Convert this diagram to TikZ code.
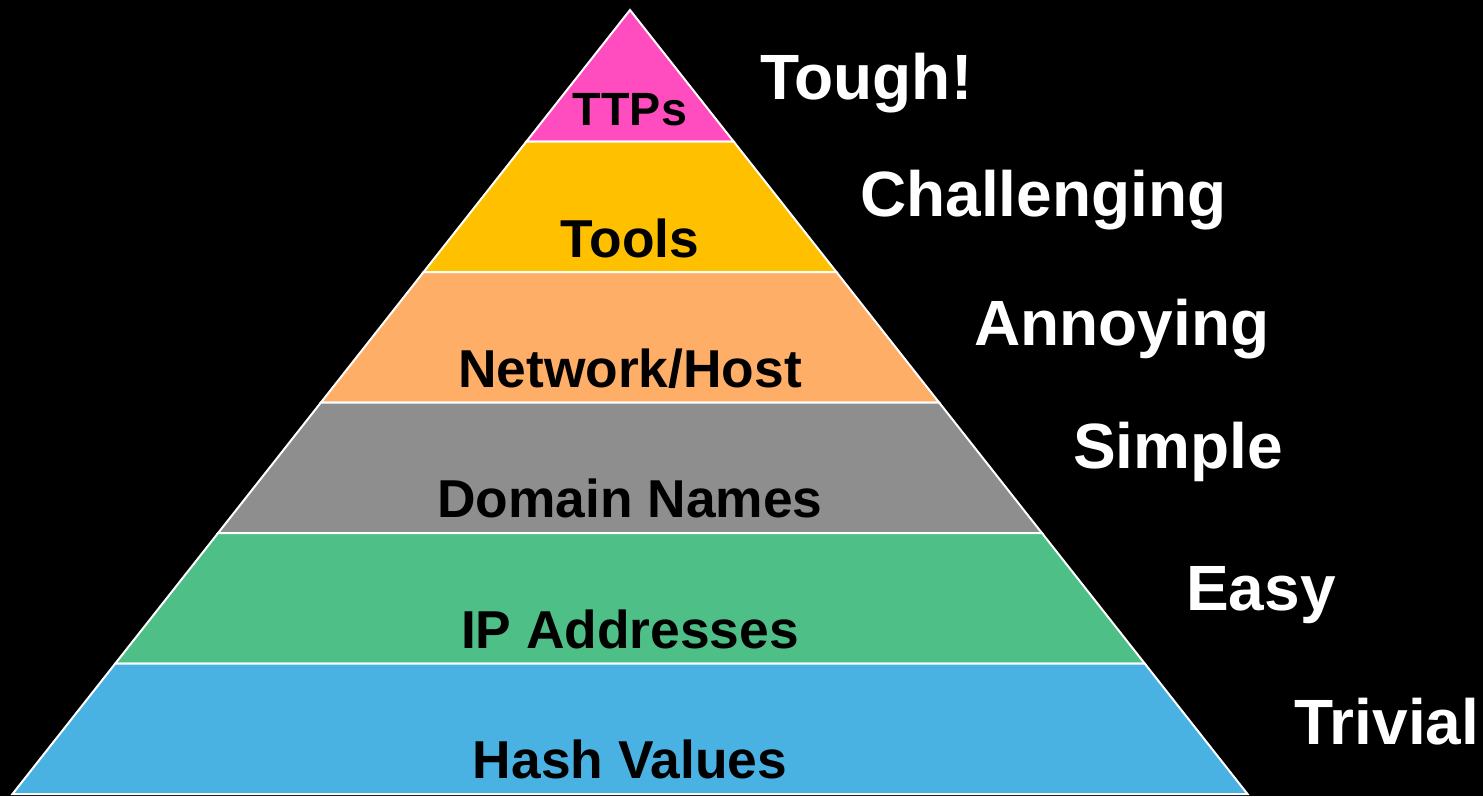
\documentclass[tikz,border=0pt]{standalone}
\usepackage{fontspec}
\setmainfont{Liberation Sans}
\definecolor{cpink}{HTML}{FF4DC0}
\definecolor{cyellow}{HTML}{FFC000}
\definecolor{corange}{HTML}{FFAE68}
\definecolor{cgrey}{HTML}{8E8E8E}
\definecolor{cgreen}{HTML}{4EBF87}
\definecolor{cblue}{HTML}{4AB2E3}
\tikzset{
  layer/.style={draw=white, line width=1.5pt, line join=miter},
  lbl/.style={anchor=base, inner sep=0pt, text=black, font=\fontsize{40}{40}\selectfont\bfseries},
  diff/.style={anchor=base west, inner sep=0pt, text=white, font=\fontsize{48}{48}\selectfont\bfseries}
}
\begin{document}
\begin{tikzpicture}[x=0.75pt, y=-0.75pt]
\fill[black] (0,0) rectangle (1483,796);
\useasboundingbox (0,0) rectangle (1483,796);
% boundary coordinates
\coordinate (apex) at (630,10);
\coordinate (l1) at (526.4,141.5); \coordinate (r1) at (733.6,141.5);
\coordinate (l2) at (423.6,272);   \coordinate (r2) at (836.4,272);
\coordinate (l3) at (320.9,402.5); \coordinate (r3) at (939.1,402.5);
\coordinate (l4) at (218.1,533);   \coordinate (r4) at (1041.9,533);
\coordinate (l5) at (115.3,663.5); \coordinate (r5) at (1144.7,663.5);
\coordinate (l6) at (12.5,794);    \coordinate (r6) at (1247.5,794);
% layers
\filldraw[layer, fill=cpink]   (apex) -- (r1) -- (l1) -- cycle;
\filldraw[layer, fill=cyellow] (l1) -- (r1) -- (r2) -- (l2) -- cycle;
\filldraw[layer, fill=corange] (l2) -- (r2) -- (r3) -- (l3) -- cycle;
\filldraw[layer, fill=cgrey]   (l3) -- (r3) -- (r4) -- (l4) -- cycle;
\filldraw[layer, fill=cgreen]  (l4) -- (r4) -- (r5) -- (l5) -- cycle;
\filldraw[layer, fill=cblue]   (l5) -- (r5) -- (r6) -- (l6) -- cycle;
% pyramid labels
\node[lbl, font=\fontsize{35}{35}\selectfont\bfseries] (ttps) at (630,125) {TTPs};
\node[lbl] (tools) at (630,257) {Tools};
\node[lbl] (net) at (630,387) {Network/Host};
\node[lbl] (dom) at (630,517) {Domain Names};
\node[lbl] (ip) at (630,648) {IP Addresses};
\node[lbl] (hash) at (630,778) {Hash Values};
% difficulty labels
\node[diff] (tough) at (760,99) {Tough!};
\node[diff] (chal) at (860,216) {Challenging};
\node[diff] (ann) at (974,345) {Annoying};
\node[diff] (simp) at (1073,468) {Simple};
\node[diff] (easy) at (1186,610) {Easy};
\node[diff] (triv) at (1294,744) {Trivial};
\end{tikzpicture}
\end{document}
